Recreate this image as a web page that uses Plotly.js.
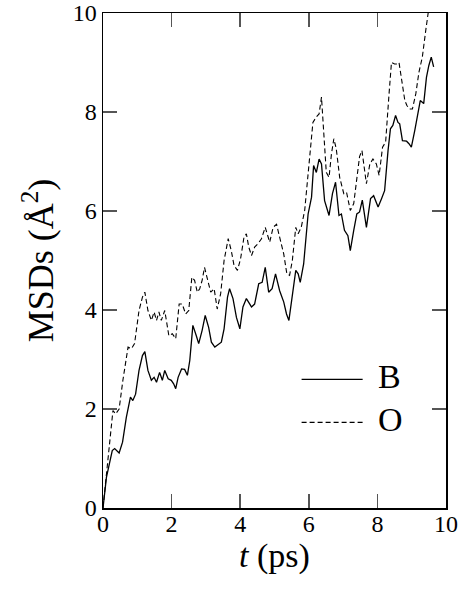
<!DOCTYPE html>
<html>
<head>
<meta charset="utf-8">
<script src="https://cdn.plot.ly/plotly-3.0.1.min.js"></script>
<style>html,body{margin:0;padding:0;background:#fff;}#chart{width:471px;height:590px;}</style>
</head>
<body>
<div id="chart"></div>
<script>
// Time (ps) and MSD (Å^2) for B
const tB = [0, 0.1, 0.27, 0.34, 0.47, 0.57, 0.68, 0.8, 0.87, 0.95, 1.05, 1.15, 1.22, 1.31, 1.41, 1.49, 1.56, 1.65, 1.73, 1.8, 1.9, 1.99, 2.06, 2.12, 2.19, 2.29, 2.38, 2.46, 2.53, 2.62, 2.72, 2.79, 2.89, 2.98, 3.08, 3.16, 3.26, 3.35, 3.45, 3.53, 3.63, 3.69, 3.79, 3.89, 3.99, 4.08, 4.18, 4.28, 4.33, 4.42, 4.54, 4.64, 4.73, 4.83, 4.93, 5.03, 5.15, 5.27, 5.35, 5.42, 5.52, 5.62, 5.69, 5.75, 5.85, 5.98, 6.08, 6.14, 6.22, 6.3, 6.37, 6.46, 6.59, 6.69, 6.78, 6.88, 6.95, 7.04, 7.14, 7.21, 7.31, 7.4, 7.48, 7.56, 7.68, 7.8, 7.89, 8.02, 8.12, 8.21, 8.31, 8.38, 8.45, 8.53, 8.6, 8.65, 8.73, 8.85, 8.92, 8.99, 9.09, 9.18, 9.25, 9.35, 9.43, 9.5, 9.57, 9.64];
const msdB = [0, 0.62, 1.16, 1.2, 1.11, 1.33, 1.83, 2.24, 2.17, 2.3, 2.78, 3.08, 3.16, 2.78, 2.58, 2.64, 2.54, 2.74, 2.58, 2.78, 2.61, 2.58, 2.51, 2.41, 2.64, 2.81, 2.8, 2.68, 2.98, 3.69, 3.48, 3.32, 3.59, 3.89, 3.65, 3.35, 3.25, 3.3, 3.35, 3.62, 4.26, 4.43, 4.23, 3.85, 3.62, 4.06, 4.23, 4.12, 4.06, 4.12, 4.53, 4.56, 4.86, 4.36, 4.43, 4.73, 4.39, 4.16, 3.92, 3.79, 4.26, 4.8, 4.73, 4.56, 4.93, 5.94, 6.28, 6.92, 6.78, 7.05, 6.95, 6.21, 5.91, 6.35, 6.58, 5.91, 5.94, 5.61, 5.5, 5.2, 5.61, 5.94, 5.98, 6.22, 5.67, 6.25, 6.31, 6.08, 6.25, 6.41, 7.22, 7.66, 7.73, 7.93, 7.79, 7.76, 7.42, 7.41, 7.36, 7.29, 7.63, 7.93, 8.23, 8.17, 8.7, 8.94, 9.11, 8.91];
// Time (ps) and MSD (Å^2) for O
const tO = [0, 0.15, 0.29, 0.37, 0.47, 0.58, 0.73, 0.83, 0.92, 1.05, 1.15, 1.22, 1.31, 1.41, 1.49, 1.56, 1.63, 1.7, 1.8, 1.92, 2.02, 2.12, 2.22, 2.31, 2.41, 2.5, 2.59, 2.67, 2.75, 2.82, 2.89, 2.96, 3.04, 3.14, 3.24, 3.33, 3.43, 3.53, 3.65, 3.74, 3.82, 3.92, 4.01, 4.11, 4.18, 4.25, 4.33, 4.42, 4.52, 4.62, 4.73, 4.86, 4.96, 5.06, 5.15, 5.27, 5.36, 5.44, 5.52, 5.62, 5.69, 5.78, 5.88, 6.0, 6.12, 6.22, 6.3, 6.37, 6.44, 6.51, 6.59, 6.66, 6.73, 6.8, 6.9, 7.02, 7.1, 7.21, 7.31, 7.4, 7.48, 7.55, 7.68, 7.78, 7.87, 7.97, 8.05, 8.15, 8.24, 8.34, 8.41, 8.5, 8.57, 8.63, 8.7, 8.8, 8.86, 8.94, 9.02, 9.12, 9.21, 9.31, 9.41, 9.5];
const msdO = [0, 1.03, 1.97, 1.9, 2.0, 2.58, 3.25, 3.22, 3.32, 3.99, 4.26, 4.36, 3.99, 3.79, 3.96, 3.79, 3.96, 3.79, 3.99, 3.48, 3.52, 3.42, 4.12, 4.12, 3.92, 3.99, 4.66, 4.6, 4.36, 4.43, 4.6, 4.86, 4.63, 4.36, 4.43, 4.02, 4.33, 5.0, 5.44, 5.2, 4.9, 4.8, 5.03, 5.47, 5.54, 5.27, 5.1, 5.27, 5.34, 5.44, 5.67, 5.37, 5.67, 5.73, 5.47, 5.13, 4.73, 4.7, 5.0, 5.67, 5.54, 5.67, 6.01, 6.88, 7.79, 7.9, 7.96, 8.3, 7.42, 6.78, 6.68, 7.15, 7.46, 7.26, 6.68, 6.35, 6.38, 6.01, 6.15, 6.62, 7.1, 7.22, 6.55, 6.95, 7.05, 6.95, 6.72, 7.29, 7.39, 8.37, 9.0, 8.97, 8.97, 9.0, 8.7, 8.23, 8.13, 8.06, 8.06, 8.37, 8.8, 9.11, 9.65, 10.1];
const seriesNames = ['B', 'O'];
const tickVals = [0, 2, 4, 6, 8, 10];

const FONT = 'Liberation Serif';

const traces = [
  {x: tB, y: msdB, name: seriesNames[0], mode: 'lines', line: {color: '#000', width: 1.3, dash: 'solid'}, showlegend: false},
  {x: tO, y: msdO, name: seriesNames[1], mode: 'lines', line: {color: '#000', width: 1.1, dash: '5px,3px'}, showlegend: false}
];

function axisCommon() {
  return {
    range: [0, 10],
    tickvals: tickVals,
    ticktext: tickVals.map(String),
    ticks: 'inside',
    ticklen: 14,
    tickwidth: 1.5,
    tickcolor: '#555',
    showline: true,
    linecolor: '#000',
    linewidth: 1.5,
    mirror: 'ticks',
    showgrid: false,
    zeroline: false,
    tickfont: {family: FONT, size: 24, color: '#000'},
    fixedrange: true
  };
}

const xaxis = axisCommon();
xaxis.ticklabelstandoff = -6;
xaxis.title = {text: '<i>t</i> (ps)', font: {family: FONT, size: 34, color: '#000'}, standoff: 4};
const yaxis = axisCommon();
yaxis.title = {text: 'MSDs (Å<sup>2</sup>)', font: {family: FONT, size: 36, color: '#000'}, standoff: 8};

const layout = {
  width: 471,
  height: 590,
  margin: {l: 103, r: 25, t: 13, b: 82},
  paper_bgcolor: '#fff',
  plot_bgcolor: '#fff',
  font: {family: FONT, color: '#000', size: 24},
  showlegend: false,
  xaxis: xaxis,
  yaxis: yaxis,
  shapes: [
    {type: 'line', xref: 'x', yref: 'y', x0: 5.79, x1: 7.57, y0: 2.6, y1: 2.6, line: {color: '#000', width: 1.2}},
    {type: 'line', xref: 'x', yref: 'y', x0: 5.79, x1: 7.57, y0: 1.73, y1: 1.73, line: {color: '#000', width: 1.1, dash: '5px,3px'}}
  ],
  annotations: [
    {xref: 'x', yref: 'y', x: 7.95, y: 2.6, text: seriesNames[0], showarrow: false, xanchor: 'left', yanchor: 'middle', yshift: 3, font: {family: FONT, size: 34, color: '#000'}},
    {xref: 'x', yref: 'y', x: 7.95, y: 1.73, text: seriesNames[1], showarrow: false, xanchor: 'left', yanchor: 'middle', yshift: 3, font: {family: FONT, size: 34, color: '#000'}}
  ]
};

Plotly.newPlot('chart', traces, layout, {staticPlot: true, displayModeBar: false});
</script>
</body>
</html>
